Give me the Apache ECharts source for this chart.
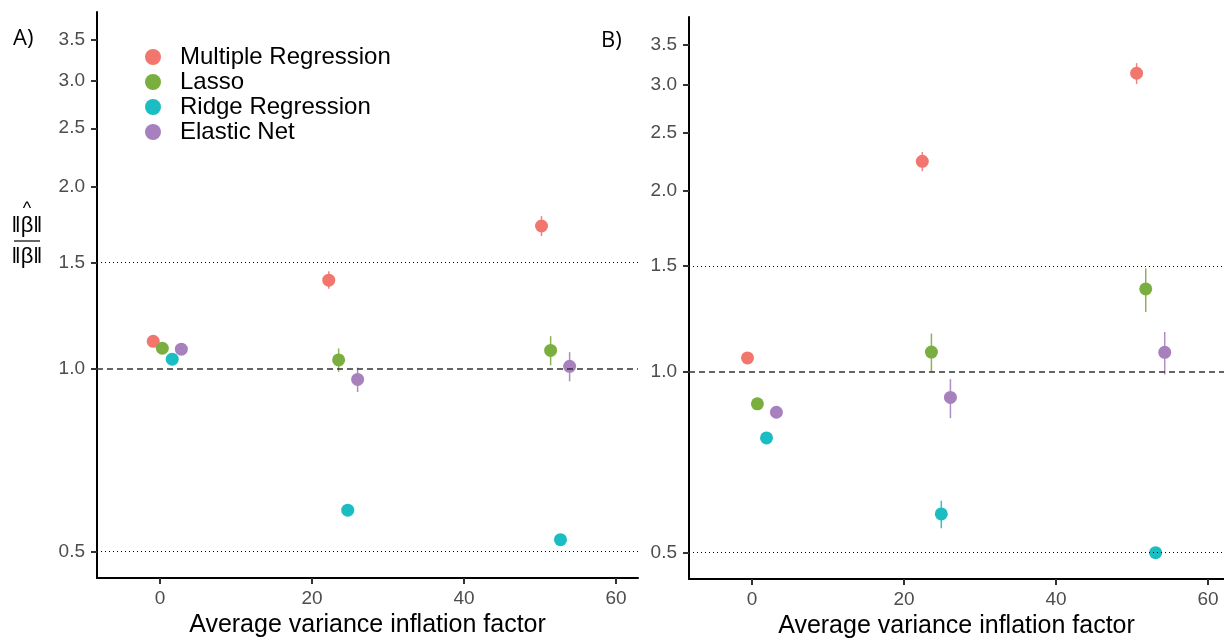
<!DOCTYPE html>
<html>
<head>
<meta charset="utf-8">
<script src="https://cdn.jsdelivr.net/npm/echarts@6/dist/echarts.min.js"></script>
<style>
  html, body { margin: 0; padding: 0; background: #fff; }
  #chart { width: 1224px; height: 640px; }
</style>
</head>
<body>
<div id="chart"></div>
<script>
// methods and colours (ggplot-like hues)
var methods = ['Multiple Regression', 'Lasso', 'Ridge Regression', 'Elastic Net'];
var colors = ['#F2766D', '#7AAE3E', '#1ABDC2', '#A681BD'];

// panel A: rows = method, cols = the three correlation settings
var vifA = [[-0.9, 22.2, 50.2], [0.3, 23.5, 51.4], [1.6, 24.7, 52.7], [2.8, 26.0, 53.9]];
var ratioA = [[1.112, 1.403, 1.724], [1.083, 1.036, 1.074], [1.039, 0.585, 0.523], [1.079, 0.962, 1.011]];
var lowA = [[1.104, 1.358, 1.659], [1.076, 0.990, 1.015], [1.032, 0.578, 0.517], [1.072, 0.917, 0.955]];
var highA = [[1.120, 1.451, 1.790], [1.090, 1.082, 1.134], [1.046, 0.592, 0.529], [1.086, 1.006, 1.067]];

// panel B
var vifB = [[-0.6, 22.4, 50.6], [0.7, 23.6, 51.8], [1.9, 24.9, 53.1], [3.2, 26.1, 54.3]];
var ratioB = [[1.054, 2.238, 3.136], [0.884, 1.078, 1.373], [0.776, 0.580, 0.500], [0.856, 0.906, 1.077]];
var lowB = [[1.047, 2.155, 3.010], [0.877, 1.001, 1.257], [0.770, 0.549, 0.496], [0.849, 0.837, 0.989]];
var highB = [[1.061, 2.320, 3.260], [0.891, 1.157, 1.485], [0.782, 0.610, 0.504], [0.863, 0.972, 1.164]];

var yTicks = [0.5, 1.0, 1.5, 2.0, 2.5, 3.0, 3.5];
var xTicks = [0, 20, 40, 60];
var dottedRefs = [0.5, 1.5];
var dashedRef = 1.0;

var chart = echarts.init(document.getElementById('chart'));
var FONT = '"Liberation Sans", Arial, sans-serif';

function xAxisCfg(idx, max) {
  return {
    gridIndex: idx, type: 'value', min: -8.3, max: max,
    name: 'Average variance inflation factor', nameLocation: 'middle', nameGap: 35,
    nameTextStyle: { fontSize: 25, color: '#000', fontFamily: FONT },
    axisLine: { onZero: false, lineStyle: { color: '#000', width: 2 } },
    axisTick: { customValues: xTicks, length: 6, lineStyle: { color: '#333', width: 2 } },
    axisLabel: { customValues: xTicks, fontSize: 19, color: '#4D4D4D', fontFamily: FONT, margin: 11 },
    splitLine: { show: false }
  };
}

function yAxisCfg(idx) {
  return {
    gridIndex: idx, type: 'log', logBase: 10, min: 0.452, max: 3.89,
    axisLine: { show: true, onZero: false, lineStyle: { color: '#000', width: 2 } },
    axisTick: { show: true, customValues: yTicks, length: 6, lineStyle: { color: '#333', width: 2 } },
    axisLabel: {
      customValues: yTicks, fontSize: 19, color: '#4D4D4D', fontFamily: FONT, margin: 12,
      formatter: function (v) { return Number(v).toFixed(1); }
    },
    splitLine: { show: false }
  };
}

function refLines() {
  var d = dottedRefs.map(function (v) {
    return { yAxis: v, lineStyle: { type: [1, 3], color: '#000', width: 1 } };
  });
  d.push({ yAxis: dashedRef, lineStyle: { type: [6, 4], color: '#333', width: 1.5 } });
  return { silent: true, symbol: 'none', label: { show: false }, data: d };
}

var series = [];
var panels = [[vifA, ratioA, lowA, highA], [vifB, ratioB, lowB, highB]];
panels.forEach(function (p, pi) {
  methods.forEach(function (m, mi) {
    series.push({
      type: 'scatter', name: m, xAxisIndex: pi, yAxisIndex: pi, z: 4,
      symbol: 'circle', symbolSize: 13,
      itemStyle: { color: colors[mi], opacity: 1 },
      data: p[0][mi].map(function (x, i) { return [x, p[1][mi][i]]; }),
      markLine: mi === 0 ? refLines() : undefined
    });
  });
});
panels.forEach(function (p, pi) {
  methods.forEach(function (m, mi) {
    series.push({
      type: 'custom', name: m, xAxisIndex: pi, yAxisIndex: pi, z: 3, silent: true,
      data: p[0][mi].map(function (x, i) { return [x, p[2][mi][i], p[3][mi][i]]; }),
      encode: { x: 0, y: [1, 2] },
      renderItem: function (params, api) {
        var a = api.coord([api.value(0), api.value(1)]);
        var b = api.coord([api.value(0), api.value(2)]);
        return {
          type: 'line',
          shape: { x1: a[0], y1: a[1], x2: b[0], y2: b[1] },
          style: { stroke: colors[mi], lineWidth: 1.5, opacity: 0.9 }
        };
      }
    });
  });
});

var option = {
  backgroundColor: '#fff',
  animation: false,
  grid: [
    { left: 97, top: 12, width: 541, height: 566, outerBoundsMode: 'none', containLabel: false },
    { left: 689, top: 17, width: 535, height: 562, outerBoundsMode: 'none', containLabel: false }
  ],
  xAxis: [xAxisCfg(0, 62.9), xAxisCfg(1, 62.1)],
  yAxis: [yAxisCfg(0), yAxisCfg(1)],
  legend: {
    data: methods, orient: 'vertical', left: 140, top: 40,
    icon: 'circle', itemWidth: 16, itemHeight: 16, itemGap: 1,
    textStyle: { fontSize: 24, color: '#000', fontFamily: FONT, lineHeight: 24, padding: [0, 0, 0, 14] },
    selectedMode: false
  },
  graphic: [
    { type: 'text', left: 13, top: 28, style: { text: 'A)', fontSize: 22, fill: '#000', fontFamily: '"Open Sans", sans-serif' } },
    { type: 'text', left: 601, top: 30, style: { text: 'B)', fontSize: 22, fill: '#000', fontFamily: '"Open Sans", sans-serif' } },
    { type: 'text', x: 27, y: 209, style: { text: '^', fontSize: 18, fill: '#000', align: 'center', verticalAlign: 'middle', fontFamily: FONT } },
    { type: 'text', x: 27, y: 226, style: { text: '\u2016\u03B2\u2016', fontSize: 22, fill: '#000', align: 'center', verticalAlign: 'middle', fontFamily: FONT } },
    { type: 'line', shape: { x1: 14, y1: 241, x2: 40, y2: 241 }, style: { stroke: '#000', lineWidth: 1.2 } },
    { type: 'text', x: 27, y: 257, style: { text: '\u2016\u03B2\u2016', fontSize: 22, fill: '#000', align: 'center', verticalAlign: 'middle', fontFamily: FONT } }
  ],
  series: series
};
chart.setOption(option);
</script>
</body>
</html>
